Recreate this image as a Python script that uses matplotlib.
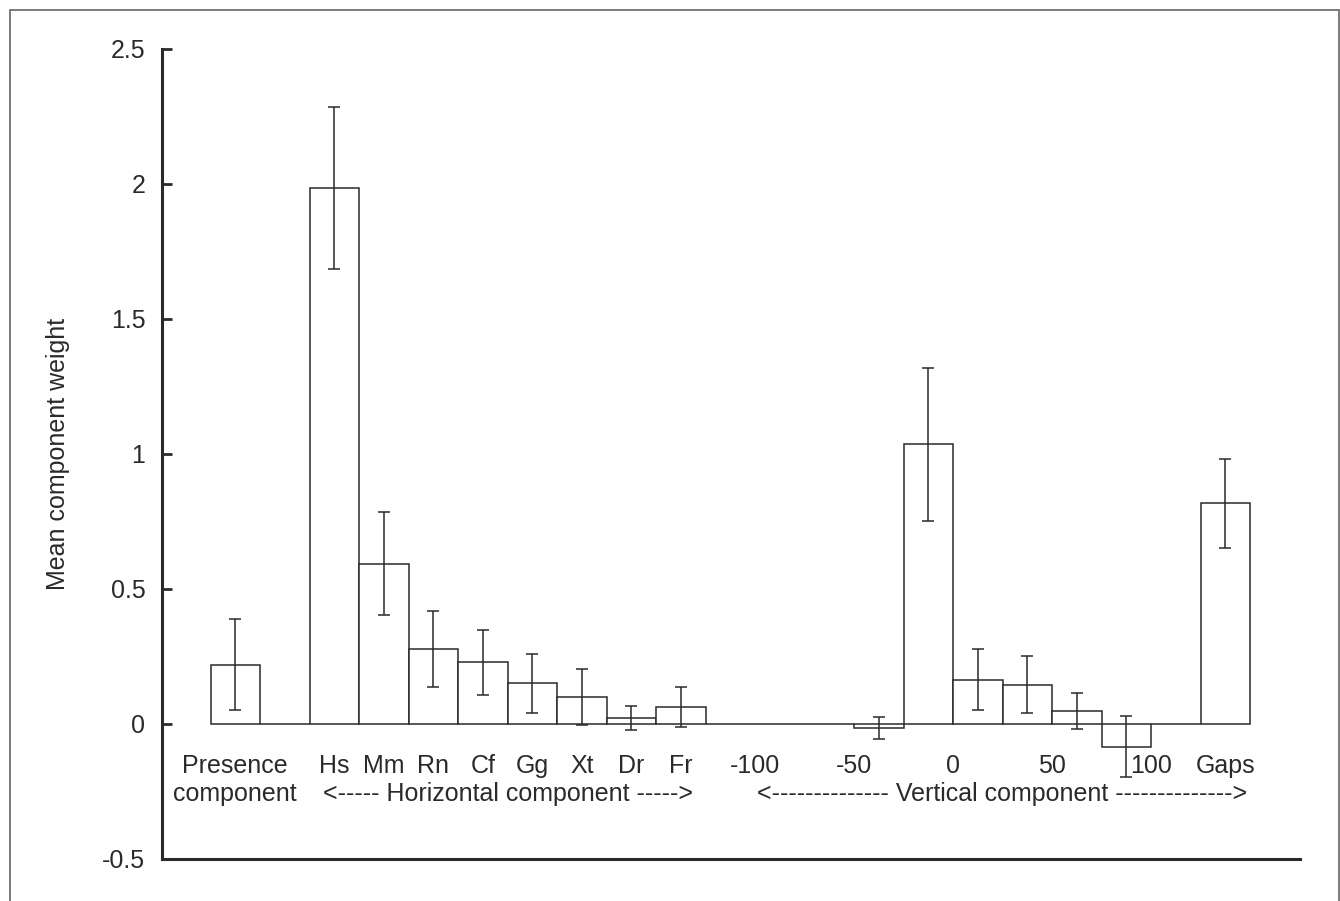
import matplotlib
matplotlib.use("Agg")
import matplotlib.pyplot as plt
from matplotlib.patches import Rectangle
import numpy as np

plt.rcParams['font.family'] = ['Liberation Sans', 'DejaVu Sans']

# ---- data (21 slots, left to right) ----
values = [0.22, 0.0, 1.985, 0.594, 0.277, 0.229, 0.150, 0.100, 0.022, 0.062,
          0.0, 0.0, 0.0, -0.015, 1.036, 0.164, 0.145, 0.048, -0.084, 0.0, 0.817]
errors = [0.17, 0.0, 0.30, 0.19, 0.14, 0.12, 0.11, 0.105, 0.045, 0.073,
          0.0, 0.0, 0.0, 0.042, 0.283, 0.112, 0.106, 0.068, 0.114, 0.0, 0.165]

row1_labels = ["Presence", "Hs", "Mm", "Rn", "Cf", "Gg", "Xt", "Dr", "Fr",
               "-100", "-50", "0", "50", "100", "Gaps"]
row1_pos = [0, 2, 3, 4, 5, 6, 7, 8, 9, 10.5, 12.5, 14.5, 16.5, 18.5, 20]
row2_labels = ["component",
               "<----- Horizontal component ----->",
               "<-------------- Vertical component -------------->"]
row2_pos = [0, 5.5, 15.5]

yticks = [-0.5, 0, 0.5, 1, 1.5, 2, 2.5]
ylabel = "Mean component weight"

W, H = 1340, 901
fig = plt.figure(figsize=(W / 100, H / 100), dpi=100)
fig.patch.set_facecolor("white")

# figure frame
fig.patches.append(Rectangle((10 / W, -0.05), (1339 - 10) / W, 1.05 - 10 / H,
                             transform=fig.transFigure, fill=False,
                             edgecolor="#666666", linewidth=1.2))

ax = fig.add_axes([162 / W, 1 - 859 / H, (1300 - 162) / W, (859 - 48.7) / H])

ink = "#2a2a2a"
fs = 18
x = np.arange(len(values))
ax.bar(x, values, width=1.0, facecolor="white", edgecolor=ink, linewidth=1.1)

vals = np.array(values)
errs = np.array(errors)
m = errs > 0
ax.errorbar(x[m], vals[m], yerr=errs[m], fmt="none", ecolor=ink,
            elinewidth=1.1, capsize=4, capthick=1.1)

ax.set_xlim(-1.48, 21.51)
ax.set_ylim(-0.5, 2.5)
ax.set_yticks(yticks)
ax.set_yticklabels(["%g" % t for t in yticks])
ax.tick_params(axis="y", direction="in", length=7.5, width=2, pad=12,
               labelsize=fs, colors=ink)
ax.tick_params(axis="x", bottom=False, labelbottom=False)

for s in ["top", "right"]:
    ax.spines[s].set_visible(False)
for s in ["left", "bottom"]:
    ax.spines[s].set_linewidth(2.2)
    ax.spines[s].set_color(ink)

ax.set_ylabel(ylabel, fontsize=fs, color=ink)
ax.yaxis.set_label_coords(-0.081, 0.5)

for lab, p in zip(row1_labels, row1_pos):
    ax.text(p, -0.155, lab, ha="center", va="center", fontsize=fs, color=ink)
for lab, p in zip(row2_labels, row2_pos):
    ax.text(p, -0.258, lab, ha="center", va="center", fontsize=fs, color=ink)

fig.savefig("out.png", dpi=100, facecolor="white")
